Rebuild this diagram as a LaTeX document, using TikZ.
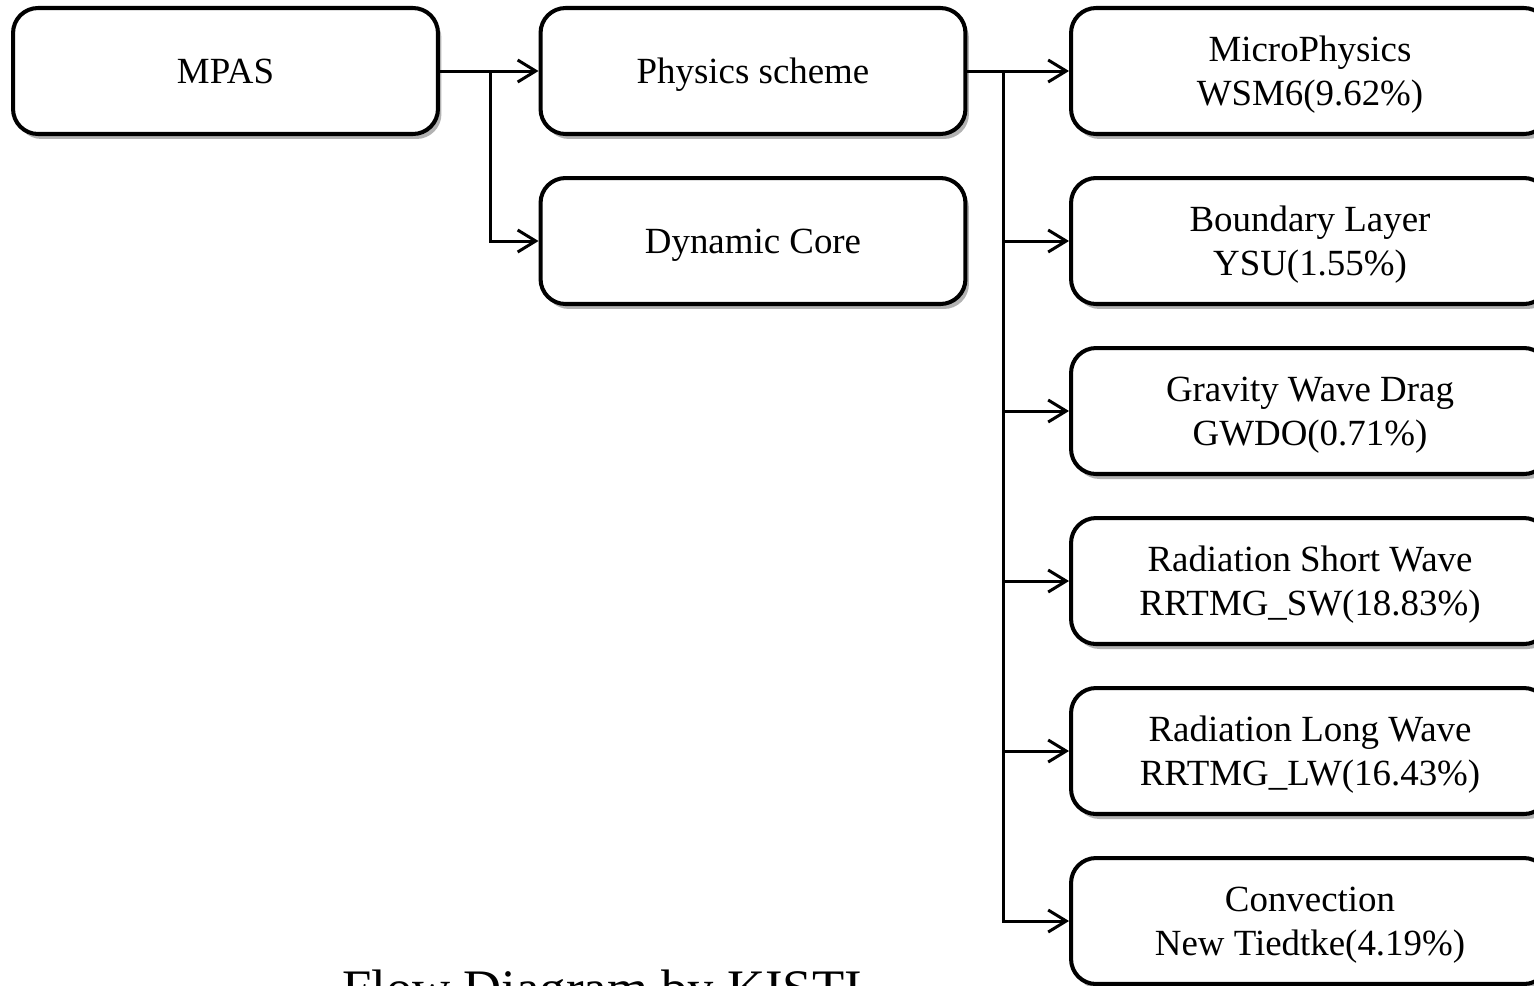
\documentclass[tikz,border=0pt]{standalone}
\usepackage{fontspec}
\setmainfont{Liberation Serif}
\usetikzlibrary{arrows.meta,shadows}

\begin{document}
\begin{tikzpicture}
[
	x=0.02cm, y=-0.02cm,
	block/.style={draw, line width=2.3pt, rounded corners=0.5cm, fill=white,
		minimum width=8.5cm, minimum height=2.52cm, align=center, text depth=0pt,
		font=\fontsize{21}{25.2}\selectfont,
		drop shadow={shadow xshift=0.07cm, shadow yshift=-0.1cm, fill=black, opacity=0.3}},
	wide/.style={block, minimum width=9.56cm},
	link/.style={line width=1.7pt, -{Straight Barb[length=0.36cm, width=0.44cm, line width=1.7pt]}}
]

	% frame
	\clip (0,0) rectangle (1534,985);

	% left boxes
	\node[block] (mpas) at (225.5,71) {MPAS};
	\node[block] (physics) at (753,71) {Physics scheme};
	\node[block] (dyncore) at (753,241) {Dynamic Core};

	% physics boxes
	\node[wide] (mp) at (1310,71) {MicroPhysics\\WSM6(9.62\%)};
	\node[wide] (pbl) at (1310,241) {Boundary Layer\\YSU(1.55\%)};
	\node[wide] (gwd) at (1310,411) {Gravity Wave Drag\\GWDO(0.71\%)};
	\node[wide] (sw) at (1310,581) {Radiation Short Wave\\RRTMG\_SW(18.83\%)};
	\node[wide] (lw) at (1310,751) {Radiation Long Wave\\RRTMG\_LW(16.43\%)};
	\node[wide] (cu) at (1310,921) {Convection\\New Tiedtke(4.19\%)};

	% branch points
	\coordinate (split1) at (490,71);
	\coordinate (split2) at (1003,71);

	% connectors
	\draw[link] (mpas.east) -- (physics.west);
	\draw[link] (split1) |- (dyncore.west);
	\draw[link] (physics.east) -- (mp.west);
	\foreach \n in {pbl,gwd,sw,lw,cu} {
		\draw[link] (split2) |- (\n.west);
	}

	% caption
	\node[anchor=base, font=\fontsize{30}{36}\selectfont] (caption) at (602,1006) {Flow Diagram by KISTI};

\end{tikzpicture}
\end{document}
